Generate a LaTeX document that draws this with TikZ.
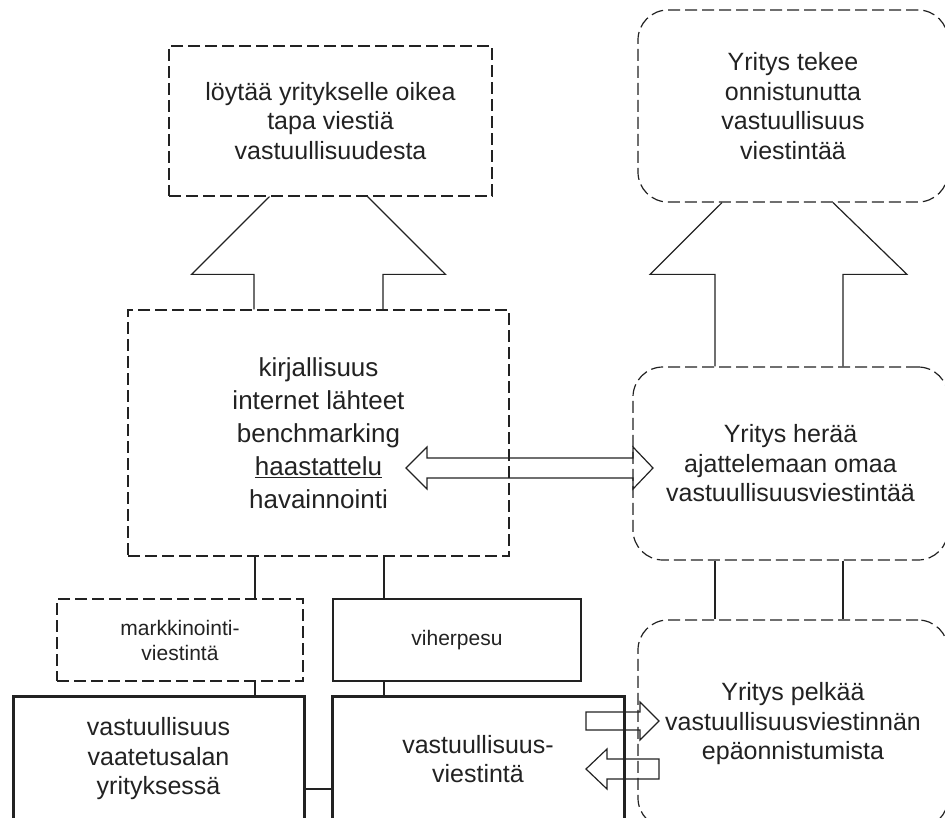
\documentclass[tikz,border=0pt]{standalone}
\usepackage{fontspec}
\setmainfont{Liberation Sans}
\usetikzlibrary{calc}
\definecolor{ink}{HTML}{222222}
\tikzset{
  ln/.style={draw=ink, line width=1.2pt, line join=miter},
  boxbase/.style={align=center, inner sep=0pt, text=ink, font=\fontsize{25}{29.5}\selectfont},
  dbox/.style={boxbase, ln, dash pattern=on 12pt off 5pt},
  rdbox/.style={dbox, rounded corners=30pt},
  smallfont/.style={font=\fontsize{21}{25}\selectfont},
  sbox/.style={boxbase, ln, smallfont},
  tbox/.style={boxbase, draw=ink, line width=3pt}
}
\begin{document}
\begin{tikzpicture}[x=1pt,y=-1pt]
\useasboundingbox (0,0) rectangle (945,818);
\clip (0,0) rectangle (945,818);

% boxes
\node[dbox, minimum width=323pt, minimum height=150pt] (goal) at (330.5,121)
  {löytää yritykselle oikea\\tapa viestiä\\vastuullisuudesta};
\node[rdbox, minimum width=310pt, minimum height=192pt] (success) at (793,106)
  {Yritys tekee\\onnistunutta\\vastuullisuus\\viestintää};
\node[dbox, font=\fontsize{26}{33}\selectfont, minimum width=381pt, minimum height=246pt] (src) at (318.5,433)
  {kirjallisuus\\internet lähteet\\benchmarking\\\underline{haastattelu}\\havainnointi};
\node[rdbox, minimum width=315pt, minimum height=193pt] (wake) at (790.5,463.5)
  {Yritys herää\\ajattelemaan omaa\\vastuullisuusviestintää};
\node[rdbox, minimum width=310pt, minimum height=208pt] (fear) at (793,724)
  {Yritys pelkää\\vastuullisuusviestinnän\\epäonnistumista};
\node[dbox, smallfont, minimum width=246pt, minimum height=82pt] (mark) at (180,640)
  {markkinointi-\\viestintä};
\node[sbox, minimum width=248pt, minimum height=82pt] (green) at (457,640)
  {viherpesu};
\node[tbox, minimum width=291pt, minimum height=126pt] (resp) at (158.5,759)
  {vastuullisuus\\vaatetusalan\\yrityksessä};
\node[tbox, minimum width=292pt, minimum height=126pt] (comm) at (478,759)
  {vastuullisuus-\\viestintä};

% plain connectors
\coordinate (xL) at (255,0);
\coordinate (xR) at (384,0);
\coordinate (xA) at (715,0);
\coordinate (xB) at (843,0);
\coordinate (yB) at (0,789);
\draw[ln] (xL |- src.south) -- (xL |- mark.north);
\draw[ln] (xR |- src.south) -- (xR |- green.north);
\draw[ln] (xL |- mark.south) -- (xL |- resp.north);
\draw[ln] (xR |- green.south) -- (xR |- comm.north);
\draw[ln] (resp.east |- yB) -- (comm.west |- yB);
\draw[ln] (xA |- wake.south) -- (xA |- fear.north);
\draw[ln] (xB |- wake.south) -- (xB |- fear.north);

% big up arrow (left), tip hidden behind box
\draw[ln] ($(src.north)+(-64.5,0)$) -- ++(0,-35) -- ($(src.north)+(-127,-35)$) -- ($(goal.south)+(-61,0)$);
\draw[ln] ($(goal.south)+(37,0)$) -- ($(src.north)+(127,-35)$) -- ($(src.north)+(64.5,-35)$) -- ($(src.north)+(64.5,0)$);

% big up arrow (right)
\draw[ln] ($(wake.north)+(-75.5,0)$) -- ++(0,-92) -- ($(wake.north)+(-140.5,-92)$) -- ($(success.south)+(-71,0)$);
\draw[ln] ($(success.south)+(40,0)$) -- ($(wake.north)+(116.5,-92)$) -- ($(wake.north)+(52.5,-92)$) -- ($(wake.north)+(52.5,0)$);

% double block arrow
\draw[ln] (427,458) -- (633,458) -- (633,447) -- (653,468) -- (633,489) -- (633,478)
  -- (427,478) -- (427,489) -- (406,468) -- (427,447) -- cycle;

% small block arrows
\draw[ln] (586,712) -- (640,712) -- (640,702) -- (659,721) -- (640,740) -- (640,730) -- (586,730) -- cycle;
\draw[ln] (659,759) -- (607,759) -- (607,749) -- (586,769) -- (607,789) -- (607,779) -- (659,779) -- cycle;
\end{tikzpicture}
\end{document}
